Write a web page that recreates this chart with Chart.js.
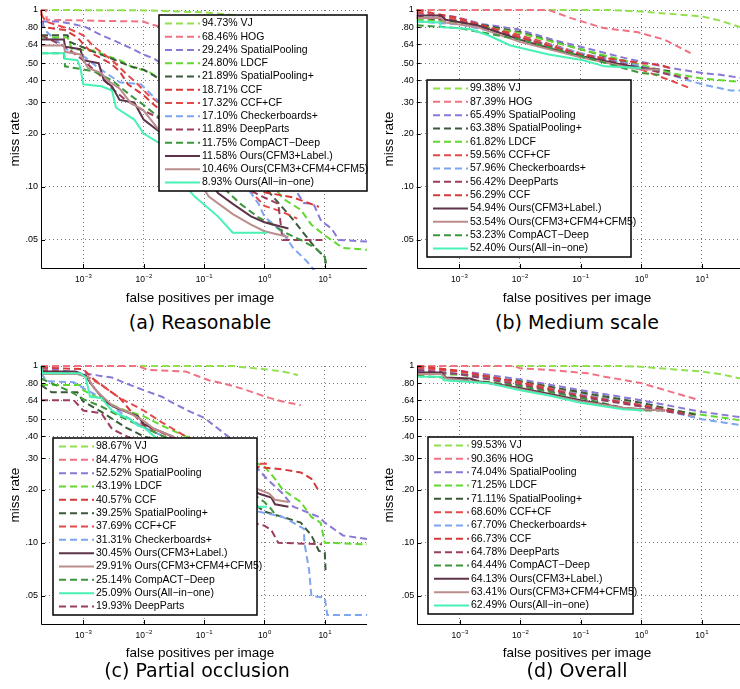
<!DOCTYPE html>
<html>
<head>
<meta charset="utf-8">
<script src="https://cdn.jsdelivr.net/npm/chart.js@4.4.1/dist/chart.umd.min.js"></script>
<style>
  html, body { margin: 0; padding: 0; background: #fff; overflow: hidden; }
  #page { position: relative; width: 740px; height: 689px; overflow: hidden; }
  canvas { position: absolute; }
  .xlabel, .ylabel, .caption { position: absolute; color: #000; white-space: nowrap; font-family: "Liberation Sans", Arial, sans-serif; }
  .xlabel { font-size: 13.5px; transform: translate(-50%, -50%); }
  .ylabel { font-size: 13.5px; transform: translate(-50%, -50%) rotate(-90deg); }
  .caption { font-family: "DejaVu Sans", sans-serif; font-size: 19px; transform: translate(-50%, -50%); }
</style>
</head>
<body>
<div id="page">
  <canvas id="chartA" width="370" height="310" style="left:0;top:0"></canvas>
  <canvas id="chartB" width="380" height="310" style="left:370px;top:0"></canvas>
  <canvas id="chartC" width="370" height="310" style="left:0;top:356px"></canvas>
  <canvas id="chartD" width="380" height="310" style="left:370px;top:356px"></canvas>

  <div class="ylabel" style="left:14px;top:139px">miss rate</div>
  <div class="ylabel" style="left:388px;top:139px">miss rate</div>
  <div class="ylabel" style="left:14px;top:495px">miss rate</div>
  <div class="ylabel" style="left:388px;top:495px">miss rate</div>

  <div class="xlabel" style="left:200px;top:297px">false positives per image</div>
  <div class="xlabel" style="left:577px;top:297px">false positives per image</div>
  <div class="xlabel" style="left:200px;top:652px">false positives per image</div>
  <div class="xlabel" style="left:577px;top:652px">false positives per image</div>

  <div class="caption" style="left:200px;top:322px">(a) Reasonable</div>
  <div class="caption" style="left:577px;top:322px">(b) Medium scale</div>
  <div class="caption" style="left:197px;top:670px">(c) Partial occlusion</div>
  <div class="caption" style="left:577px;top:670px">(d) Overall</div>
</div>

<script>
// axis ticks
const xTickValues = [1e-3, 1e-2, 1e-1, 1, 10];
const xTickExponents = ['\u22123', '\u22122', '\u22121', '0', '1'];
const yTickValues = [0.05, 0.1, 0.2, 0.3, 0.4, 0.5, 0.64, 0.8, 1];
const yTickLabels = ['.05', '.10', '.20', '.30', '.40', '.50', '.64', '.80', '1'];
const xMin = 2e-4, xMax = 50, yMin = 0.0347, yMax = 1;

// (a) Reasonable
const reasonableNames = ['VJ', 'HOG', 'SpatialPooling', 'LDCF', 'SpatialPooling+', 'CCF', 'CCF+CF',
  'Checkerboards+', 'DeepParts', 'CompACT\u2212Deep', 'Ours(CFM3+Label.)', 'Ours(CFM3+CFM4+CFM5)', 'Ours(All\u2212in\u2212one)'];
const reasonableScores = [94.73, 68.46, 29.24, 24.80, 21.89, 18.71, 17.32, 17.10, 11.89, 11.75, 11.58, 10.46, 8.93];
const reasonableCurves = [
  [[2e-4,1],[0.01,0.995],[0.1,0.97],[1,0.9],[10,0.75],[50,0.6]],
  [[2e-4,1],[2.4e-4,1],[2.5e-4,0.88],[0.01,0.86],[0.013,0.83],[0.1,0.7],[1,0.5],[10,0.3]],
  [[2e-4,0.86],[4e-4,0.86],[7e-4,0.83],[1.1e-3,0.8],[2e-3,0.72],[3e-3,0.68],[6e-3,0.61],[0.01,0.56],[0.015,0.53],[0.1,0.35],[1,0.16],[3,0.1],[4.5,0.081],[6.5,0.08],[8.7,0.064],[13,0.058],[17,0.05],[50,0.049]],
  [[2e-4,0.7],[5.5e-4,0.7],[6.5e-4,0.6],[1.5e-3,0.59],[2.5e-3,0.55],[4e-3,0.52],[7e-3,0.47],[0.012,0.45],[0.02,0.4],[0.1,0.26],[1,0.12],[2,0.086],[4,0.074],[6,0.061],[10,0.053],[14,0.049],[20,0.045],[50,0.044]],
  [[2e-4,0.72],[5.5e-4,0.72],[6e-4,0.66],[1.5e-3,0.58],[3e-3,0.53],[6e-3,0.48],[0.01,0.46],[0.02,0.4],[0.1,0.24],[1,0.1],[3,0.065],[5,0.052],[7,0.045],[10,0.04],[10.5,0.036]],
  [[2e-4,1],[2.2e-4,0.8],[5e-4,0.77],[8e-4,0.7],[1.1e-3,0.62],[1.5e-3,0.56],[2.8e-3,0.5],[4e-3,0.45],[5.5e-3,0.38],[0.01,0.33],[0.015,0.29],[0.1,0.17],[0.5,0.11],[1,0.093],[3,0.087],[8,0.077]],
  [[2e-4,0.95],[2.4e-4,0.86],[6e-4,0.78],[1e-3,0.72],[1.5e-3,0.62],[3e-3,0.52],[5e-3,0.44],[8e-3,0.38],[0.012,0.33],[0.02,0.29],[0.1,0.16],[0.5,0.1],[1,0.078],[2,0.072],[3.5,0.066]],
  [[2e-4,0.86],[2.5e-4,0.75],[6e-4,0.58],[1e-3,0.55],[1.8e-3,0.47],[4e-3,0.39],[9e-3,0.38],[0.015,0.32],[0.1,0.18],[0.6,0.092],[0.8,0.08],[1,0.068],[2,0.055],[3,0.045],[5,0.038],[7,0.033]],
  [[2e-4,0.72],[5e-4,0.62],[1e-3,0.52],[2e-3,0.42],[3e-3,0.36],[5e-3,0.31],[0.01,0.27],[0.02,0.24],[0.1,0.14],[0.8,0.09],[1.7,0.08],[2,0.05],[10,0.05]],
  [[2e-4,0.57],[4.8e-4,0.57],[5e-4,0.48],[1.5e-3,0.45],[3e-3,0.4],[6e-3,0.33],[0.01,0.29],[0.02,0.24],[0.05,0.17],[0.1,0.13],[0.2,0.1],[0.4,0.08],[0.8,0.067],[1.5,0.06],[2,0.056],[4,0.05],[7,0.045],[10,0.04],[10.5,0.037]],
  [[2e-4,0.68],[4.8e-4,0.68],[5e-4,0.62],[9e-4,0.6],[1e-3,0.52],[1.8e-3,0.5],[2.2e-3,0.4],[3e-3,0.37],[4e-3,0.31],[7e-3,0.3],[0.01,0.24],[0.02,0.2],[0.05,0.15],[0.1,0.12],[0.17,0.092],[0.3,0.08],[0.6,0.068],[1,0.063],[2.5,0.058]],
  [[2e-4,0.63],[4.8e-4,0.63],[5e-4,0.58],[9e-4,0.56],[1.2e-3,0.47],[2e-3,0.44],[2.5e-3,0.4],[4e-3,0.36],[6e-3,0.3],[0.01,0.27],[0.02,0.2],[0.05,0.14],[0.12,0.088],[0.3,0.07],[0.6,0.061],[1,0.056],[2.5,0.052]],
  [[2e-4,0.57],[4.8e-4,0.57],[5e-4,0.53],[8e-4,0.52],[9e-4,0.47],[1e-3,0.38],[2e-3,0.37],[3e-3,0.35],[3.5e-3,0.28],[7e-3,0.24],[0.01,0.2],[0.018,0.177],[0.05,0.1],[0.07,0.088],[0.17,0.068],[0.3,0.055],[1.1,0.055]]
];

// (b) Medium scale
const mediumNames = ['VJ', 'HOG', 'SpatialPooling', 'SpatialPooling+', 'LDCF', 'CCF+CF', 'Checkerboards+',
  'DeepParts', 'CCF', 'Ours(CFM3+Label.)', 'Ours(CFM3+CFM4+CFM5)', 'CompACT\u2212Deep', 'Ours(All\u2212in\u2212one)'];
const mediumScores = [99.38, 87.39, 65.49, 63.38, 61.82, 59.56, 57.96, 56.42, 56.29, 54.94, 53.54, 53.23, 52.40];
const mediumCurves = [
  [[2e-4,1],[0.3,1],[1,0.98],[10,0.92],[20,0.87],[43,0.8],[50,0.78]],
  [[2e-4,1],[0.03,1],[0.07,0.9],[0.24,0.79],[0.86,0.75],[2.4,0.68],[6.5,0.57]],
  [[2e-4,0.96],[8e-4,0.92],[2.5e-3,0.83],[9e-3,0.78],[0.04,0.67],[0.1,0.62],[0.6,0.53],[1.3,0.5],[3,0.47],[10,0.44],[20,0.43],[50,0.41]],
  [[2e-4,0.9],[1e-3,0.87],[0.01,0.75],[0.1,0.6],[0.5,0.51],[1,0.48],[2,0.46],[3,0.45]],
  [[2e-4,0.88],[1e-3,0.85],[0.01,0.74],[0.1,0.6],[1,0.49],[3,0.44],[10,0.41],[50,0.39]],
  [[2e-4,0.97],[1e-3,0.88],[0.01,0.72],[0.1,0.57],[1,0.46],[3,0.4],[6.5,0.36]],
  [[2e-4,0.86],[1e-3,0.83],[0.01,0.7],[0.1,0.57],[1,0.48],[3,0.43],[10,0.38],[30,0.35],[50,0.35]],
  [[2e-4,0.92],[1e-3,0.86],[0.01,0.7],[0.1,0.56],[1,0.47],[3,0.43],[6,0.41]],
  [[2e-4,1],[1e-3,0.9],[0.01,0.7],[0.1,0.56],[1,0.5],[2,0.49],[3,0.47]],
  [[2e-4,0.93],[5e-4,0.93],[6e-4,0.88],[2e-3,0.82],[0.01,0.68],[0.05,0.58],[0.1,0.55],[0.5,0.49],[1,0.47],[2,0.46]],
  [[2e-4,0.9],[5e-4,0.9],[6e-4,0.85],[2e-3,0.8],[0.01,0.66],[0.1,0.54],[0.5,0.48],[1,0.46],[2,0.46]],
  [[2e-4,0.82],[1e-3,0.79],[0.01,0.68],[0.1,0.55],[0.5,0.47],[1,0.44],[2,0.43]],
  [[2e-4,0.86],[4.8e-4,0.85],[5e-4,0.8],[1.5e-3,0.78],[3e-3,0.72],[7e-3,0.63],[0.03,0.56],[0.11,0.52],[0.25,0.48],[1,0.47]]
];

// (c) Partial occlusion
const occlusionNames = ['VJ', 'HOG', 'SpatialPooling', 'LDCF', 'CCF', 'SpatialPooling+', 'CCF+CF',
  'Checkerboards+', 'Ours(CFM3+Label.)', 'Ours(CFM3+CFM4+CFM5)', 'CompACT\u2212Deep', 'Ours(All\u2212in\u2212one)', 'DeepParts'];
const occlusionScores = [98.67, 84.47, 52.52, 43.19, 40.57, 39.25, 37.69, 31.31, 30.45, 29.91, 25.14, 25.09, 19.93];
const occlusionCurves = [
  [[2e-4,1],[0.3,1],[0.5,0.98],[1,0.96],[2,0.93],[3.6,0.89]],
  [[2e-4,1],[0.008,1],[0.012,0.95],[0.05,0.93],[0.12,0.83],[0.2,0.8],[0.4,0.75],[1.2,0.66],[2,0.63],[4,0.6]],
  [[2e-4,0.97],[8e-4,0.92],[3e-3,0.86],[5e-3,0.8],[0.01,0.73],[0.02,0.67],[0.03,0.62],[0.06,0.55],[0.1,0.51],[0.25,0.4],[0.5,0.31],[0.8,0.26],[1.1,0.23],[2,0.19],[3,0.16],[8,0.14],[10,0.13],[20,0.11],[50,0.105]],
  [[2e-4,0.78],[9e-4,0.78],[1e-3,0.73],[2.5e-3,0.62],[5e-3,0.56],[0.01,0.52],[0.02,0.46],[0.05,0.4],[0.1,0.37],[0.5,0.3],[1,0.27],[1.5,0.23],[2,0.2],[4,0.17],[6,0.14],[8.5,0.13],[10,0.1],[50,0.098]],
  [[2e-4,0.98],[1e-3,0.96],[1.5e-3,0.84],[2.5e-3,0.74],[4e-3,0.66],[6e-3,0.56],[0.01,0.46],[0.02,0.42],[0.05,0.36],[0.2,0.3],[0.7,0.27],[2,0.26],[4,0.25],[6,0.23],[7.7,0.2]],
  [[2e-4,0.78],[3e-4,0.71],[8e-4,0.71],[1e-3,0.63],[2e-3,0.55],[5e-3,0.45],[0.01,0.4],[0.03,0.36],[0.1,0.28],[0.5,0.18],[1,0.15],[2,0.14],[4,0.13],[6,0.11],[8,0.09],[10,0.088],[10.3,0.07]],
  [[2e-4,0.95],[1e-3,0.9],[2e-3,0.78],[4e-3,0.66],[0.01,0.56],[0.02,0.48],[0.05,0.4],[0.1,0.35],[0.4,0.3],[0.8,0.28],[1.2,0.28]],
  [[2e-4,0.91],[2.5e-4,0.82],[7e-4,0.81],[1e-3,0.75],[2e-3,0.66],[5e-3,0.52],[0.01,0.45],[0.03,0.38],[0.1,0.3],[0.5,0.17],[0.8,0.15],[2,0.14],[3,0.13],[4.5,0.12],[4.6,0.1],[5.5,0.07],[6,0.05],[10,0.049],[11,0.039],[50,0.039]],
  [[2e-4,0.93],[7.5e-4,0.93],[1.1e-3,0.88],[1.4e-3,0.78],[1.8e-3,0.7],[2.5e-3,0.62],[3.5e-3,0.58],[8e-3,0.52],[0.01,0.47],[0.015,0.44],[0.03,0.4],[0.1,0.3],[0.4,0.23],[0.8,0.19],[1.3,0.18],[1.5,0.165],[2.5,0.16]],
  [[2e-4,0.9],[8e-4,0.9],[1.2e-3,0.86],[1.5e-3,0.75],[2e-3,0.68],[3e-3,0.6],[6e-3,0.54],[0.01,0.49],[0.015,0.44],[0.03,0.4],[0.1,0.3],[0.4,0.23],[0.8,0.2],[1.2,0.19],[1.5,0.175],[2.5,0.17]],
  [[2e-4,0.85],[3.5e-4,0.78],[6e-4,0.72],[1e-3,0.65],[2e-3,0.59],[4e-3,0.52],[0.01,0.45],[0.03,0.38],[0.1,0.3],[0.5,0.2],[1,0.17],[1.3,0.155],[1.6,0.14]],
  [[2e-4,1],[2.1e-4,0.91],[9e-4,0.91],[1.1e-3,0.86],[1.3e-3,0.67],[2e-3,0.66],[2.5e-3,0.6],[3e-3,0.56],[4e-3,0.53],[6e-3,0.5],[8e-3,0.46],[0.01,0.45],[0.015,0.4],[0.05,0.3],[0.2,0.22],[0.5,0.17],[0.7,0.16],[1.1,0.16]],
  [[2e-4,0.64],[7e-4,0.64],[1e-3,0.56],[2e-3,0.54],[3e-3,0.44],[0.01,0.36],[0.05,0.25],[0.2,0.17],[0.6,0.13],[1,0.125],[1.3,0.118],[1.7,0.1],[9,0.098]]
];

// (d) Overall
const overallNames = ['VJ', 'HOG', 'SpatialPooling', 'LDCF', 'SpatialPooling+', 'CCF+CF', 'Checkerboards+',
  'CCF', 'DeepParts', 'CompACT\u2212Deep', 'Ours(CFM3+Label.)', 'Ours(CFM3+CFM4+CFM5)', 'Ours(All\u2212in\u2212one)'];
const overallScores = [99.53, 90.36, 74.04, 71.25, 71.11, 68.60, 67.70, 66.73, 64.78, 64.44, 64.13, 63.41, 62.49];
const overallCurves = [
  [[2e-4,1],[0.5,1],[1,0.99],[10,0.93],[20,0.9],[44,0.85],[50,0.84]],
  [[2e-4,1],[0.008,1],[0.01,0.97],[0.03,0.95],[0.13,0.91],[0.25,0.87],[1,0.8],[2.5,0.73],[8,0.65]],
  [[2e-4,0.96],[1e-3,0.94],[0.01,0.84],[0.1,0.73],[1,0.64],[10,0.55],[50,0.51]],
  [[2e-4,0.92],[1e-3,0.89],[0.01,0.82],[0.1,0.7],[1,0.6],[10,0.53],[50,0.49]],
  [[2e-4,0.93],[1e-3,0.9],[0.01,0.82],[0.1,0.71],[1,0.62],[3,0.57],[8,0.53]],
  [[2e-4,0.98],[1e-3,0.93],[0.01,0.81],[0.1,0.69],[1,0.6],[4,0.55],[8,0.51]],
  [[2e-4,0.94],[1e-3,0.9],[0.01,0.79],[0.1,0.69],[1,0.6],[5,0.53],[10,0.5],[50,0.46]],
  [[2e-4,1],[1e-3,0.94],[0.01,0.8],[0.1,0.68],[1,0.6],[2,0.57],[4,0.55]],
  [[2e-4,0.95],[1e-3,0.9],[0.01,0.78],[0.1,0.67],[1,0.59],[3,0.55],[6,0.53]],
  [[2e-4,0.88],[1e-3,0.85],[0.01,0.77],[0.1,0.66],[0.5,0.58],[1,0.56],[2,0.56]],
  [[2e-4,0.92],[5e-4,0.92],[6e-4,0.86],[1.5e-3,0.85],[2e-3,0.82],[0.01,0.75],[0.1,0.64],[0.5,0.58],[1,0.57],[2.5,0.56]],
  [[2e-4,0.9],[5e-4,0.9],[6e-4,0.85],[3e-3,0.8],[0.01,0.74],[0.1,0.63],[0.5,0.58],[1,0.57],[2.5,0.56]],
  [[2e-4,0.87],[5e-4,0.87],[5.5e-4,0.83],[3e-3,0.8],[0.01,0.73],[0.03,0.68],[0.1,0.62],[0.5,0.57],[1.1,0.56]]
];

// line style per method
const methodStyles = {
  'VJ': { color: '#92e04e', dash: true },
  'HOG': { color: '#f07283', dash: true },
  'SpatialPooling': { color: '#8a78d6', dash: true },
  'LDCF': { color: '#62d830', dash: true },
  'SpatialPooling+': { color: '#3a5a3a', dash: true },
  'CCF': { color: '#d63a3a', dash: true },
  'CCF+CF': { color: '#e44a4a', dash: true },
  'Checkerboards+': { color: '#7ea5ef', dash: true },
  'DeepParts': { color: '#9b3d5f', dash: true },
  'CompACT\u2212Deep': { color: '#3c963c', dash: true },
  'Ours(CFM3+Label.)': { color: '#5c3349', dash: false },
  'Ours(CFM3+CFM4+CFM5)': { color: '#bc8d8d', dash: false },
  'Ours(All\u2212in\u2212one)': { color: '#48f2b4', dash: false }
};

const FONT = '"Liberation Sans", Arial, sans-serif';

// axes lines, tick labels and the boxed legend, drawn over the plot like matlab does
const axisDecor = {
  id: 'axisDecor',
  afterDraw(chart, args, opts) {
    const { ctx, chartArea: a, scales: { x, y } } = chart;
    ctx.save();
    ctx.setLineDash([]);
    ctx.strokeStyle = '#000';
    ctx.lineWidth = 1;
    ctx.beginPath();
    ctx.moveTo(Math.round(a.left) + 0.5, a.top);
    ctx.lineTo(Math.round(a.left) + 0.5, Math.round(a.bottom) + 0.5);
    ctx.lineTo(a.right, Math.round(a.bottom) + 0.5);
    xTickValues.forEach(v => {
      const px = Math.round(x.getPixelForValue(v)) + 0.5;
      ctx.moveTo(px, a.bottom);
      ctx.lineTo(px, a.bottom - 4);
    });
    yTickValues.forEach(v => {
      const py = Math.round(y.getPixelForValue(v)) + 0.5;
      ctx.moveTo(a.left, py);
      ctx.lineTo(a.left + 4, py);
    });
    ctx.stroke();

    ctx.fillStyle = '#000';
    ctx.textBaseline = 'middle';
    ctx.textAlign = 'right';
    ctx.font = '9px ' + FONT;
    yTickValues.forEach((v, i) => {
      ctx.fillText(yTickLabels[i], a.left - 3, y.getPixelForValue(v));
    });

    ctx.textAlign = 'left';
    xTickValues.forEach((v, i) => {
      const px = x.getPixelForValue(v);
      ctx.font = '8.5px ' + FONT;
      const bw = ctx.measureText('10').width;
      ctx.font = '6px ' + FONT;
      const ew = ctx.measureText(xTickExponents[i]).width;
      const start = px - (bw + ew) / 2;
      ctx.font = '8.5px ' + FONT;
      ctx.fillText('10', start, a.bottom + 12);
      ctx.font = '6px ' + FONT;
      ctx.fillText(xTickExponents[i], start + bw + 0.5, a.bottom + 8);
    });

    // legend
    const box = opts.box;
    ctx.fillStyle = '#fff';
    ctx.fillRect(box.x, box.y, box.w, box.h);
    ctx.strokeStyle = '#000';
    ctx.lineWidth = 1.5;
    ctx.strokeRect(box.x, box.y, box.w, box.h);
    const sets = chart.data.datasets;
    const step = (box.h - 17) / (sets.length - 1);
    ctx.font = '10.5px ' + FONT;
    ctx.textAlign = 'left';
    sets.forEach((ds, i) => {
      const yy = box.y + 8.5 + i * step;
      ctx.strokeStyle = ds.borderColor;
      ctx.lineWidth = ds.borderWidth;
      ctx.setLineDash(ds.borderDash);
      ctx.beginPath();
      ctx.moveTo(box.x + 6, yy);
      ctx.lineTo(box.x + 41, yy);
      ctx.stroke();
      ctx.setLineDash([]);
      ctx.fillStyle = '#000';
      ctx.fillText(ds.label, box.x + 43, yy);
    });
    ctx.restore();
  }
};

function makeDatasets(names, scores, curves) {
  return names.map((name, i) => {
    const st = methodStyles[name];
    return {
      label: scores[i].toFixed(2) + '% ' + name,
      data: curves[i].map(p => ({ x: p[0], y: p[1] })),
      borderColor: st.color,
      borderWidth: 2,
      borderDash: st.dash ? [7, 4] : [],
      pointRadius: 0,
      showLine: true,
      fill: false,
      tension: 0,
      clip: 2,
      order: names.length - i
    };
  });
}

function makePanel(id, names, scores, curves, pad, legendBox) {
  return new Chart(document.getElementById(id), {
    type: 'scatter',
    data: { datasets: makeDatasets(names, scores, curves) },
    options: {
      responsive: false,
      animation: false,
      devicePixelRatio: 1,
      layout: { padding: pad },
      plugins: {
        legend: { display: false },
        tooltip: { enabled: false },
        axisDecor: { box: legendBox }
      },
      scales: {
        x: {
          type: 'logarithmic', min: xMin, max: xMax,
          afterBuildTicks: s => { s.ticks = xTickValues.map(v => ({ value: v })); },
          afterFit: s => { s.height = 0; },
          ticks: { display: false },
          grid: { color: '#777', lineWidth: 1, drawTicks: false },
          border: { display: false, dash: [1, 3] }
        },
        y: {
          type: 'logarithmic', min: yMin, max: yMax,
          afterBuildTicks: s => { s.ticks = yTickValues.map(v => ({ value: v })); },
          afterFit: s => { s.width = 0; },
          ticks: { display: false },
          grid: { color: '#777', lineWidth: 1, drawTicks: false },
          border: { display: false, dash: [1, 3] }
        }
      }
    },
    plugins: [axisDecor]
  });
}

makePanel('chartA', reasonableNames, reasonableScores, reasonableCurves,
  { left: 41, top: 10, right: 3, bottom: 42 }, { x: 159, y: 15, w: 208, h: 176 });
makePanel('chartB', mediumNames, mediumScores, mediumCurves,
  { left: 46.7, top: 10, right: 5.7, bottom: 42 }, { x: 57, y: 80, w: 204, h: 177 });
makePanel('chartC', occlusionNames, occlusionScores, occlusionCurves,
  { left: 41, top: 10, right: 3, bottom: 42 }, { x: 53, y: 82, w: 204, h: 177 });
makePanel('chartD', overallNames, overallScores, overallCurves,
  { left: 47.3, top: 10, right: 6.1, bottom: 42 }, { x: 58, y: 81, w: 205, h: 177 });
</script>
</body>
</html>
